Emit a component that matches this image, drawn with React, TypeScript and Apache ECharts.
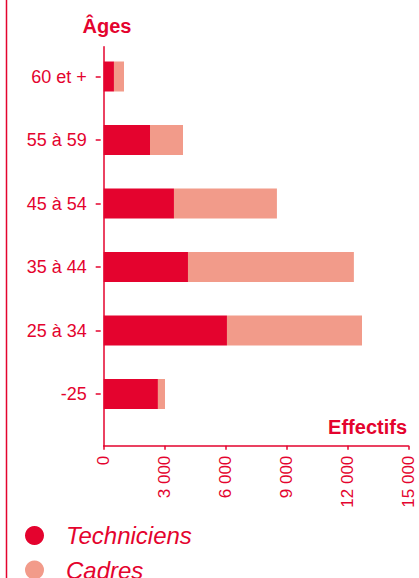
import React, { useEffect, useRef } from "react";
import * as echarts from "echarts";

const categories = ["-25", "25 à 34", "35 à 44", "45 à 54", "55 à 59", "60 et +"];
const techniciens = [2670, 6070, 4150, 3460, 2280, 505];
const cadres = [350, 6650, 8170, 5070, 1625, 495];
const xTicks = [0, 3000, 6000, 9000, 12000, 15000];
const seriesNames = ["Techniciens", "Cadres"];
const yTitle = "Âges";
const xTitle = "Effectifs";

const RED = "#E4032E";
const SALMON = "#F29B8A";
const SANS = "'Liberation Sans', Arial, sans-serif";

export default function App() {
  const ref = useRef<HTMLDivElement>(null);
  useEffect(() => {
    if (!ref.current) return;
    const chart = echarts.init(ref.current, null, { renderer: "svg" });
    const left = 103.7;
    const right = 10.7;
    const legendCommon = {
      orient: "vertical",
      left: 20,
      icon: "circle",
      itemWidth: 19,
      itemHeight: 19,
      textStyle: {
        color: RED,
        fontFamily: SANS,
        fontStyle: "italic",
        fontSize: 24,
        padding: [0, 0, 0, 17],
      },
    };
    chart.setOption({
      animation: false,
      backgroundColor: "#ffffff",
      grid: [
        { left, right, top: 44.75, bottom: 152.25, containLabel: false },
        { left, right, top: 46.7, bottom: 132.3, containLabel: false },
      ],
      xAxis: [
        { type: "value", gridIndex: 0, min: 0, max: 15000, show: false },
        {
          type: "value",
          gridIndex: 1,
          min: 0,
          max: 15000,
          interval: 3000,
          splitLine: { show: false },
          axisLine: { show: true, lineStyle: { color: RED, width: 1.5 } },
          axisTick: { show: true, length: 4, lineStyle: { color: RED, width: 1.5 } },
          axisLabel: {
            rotate: 90,
            margin: 10,
            color: RED,
            fontFamily: SANS,
            fontSize: 17,
            customValues: xTicks,
            formatter: (v: number) => String(v).replace(/\B(?=(\d{3})+(?!\d))/g, " "),
          },
        },
      ],
      yAxis: [
        {
          type: "category",
          gridIndex: 0,
          data: categories,
          axisLine: { show: false },
          axisTick: {
            show: true,
            alignWithLabel: true,
            length: 8,
            lineStyle: { color: RED, width: 1.5, type: [5, 3], dashOffset: 5 },
          },
          axisLabel: { color: RED, fontFamily: SANS, fontSize: 18, margin: 17 },
        },
        {
          type: "category",
          gridIndex: 1,
          data: categories,
          axisLine: { show: true, lineStyle: { color: RED, width: 1.5 } },
          axisTick: { show: false },
          axisLabel: { show: false },
        },
      ],
      legend: [
        { ...legendCommon, top: 518.5, data: [seriesNames[0]] },
        { ...legendCommon, top: 553, data: [seriesNames[1]] },
      ],
      series: [
        {
          name: seriesNames[0],
          type: "bar",
          stack: "total",
          xAxisIndex: 0,
          yAxisIndex: 0,
          barWidth: 30,
          itemStyle: { color: RED },
          data: techniciens,
        },
        {
          name: seriesNames[1],
          type: "bar",
          stack: "total",
          xAxisIndex: 0,
          yAxisIndex: 0,
          barWidth: 30,
          itemStyle: { color: SALMON },
          data: cadres,
        },
      ],
      graphic: [
        {
          type: "line",
          shape: { x1: 6.5, y1: 0, x2: 6.5, y2: 578 },
          style: { stroke: RED, lineWidth: 1.5 },
        },
        {
          type: "text",
          x: 107,
          y: 36,
          style: {
            text: yTitle,
            fill: RED,
            font: `bold 20px ${SANS}`,
            textAlign: "center",
            textVerticalAlign: "bottom",
          },
        },
        {
          type: "text",
          x: 407,
          y: 437,
          style: {
            text: xTitle,
            fill: RED,
            font: `bold 20px ${SANS}`,
            textAlign: "right",
            textVerticalAlign: "bottom",
          },
        },
      ],
    });
    return () => chart.dispose();
  }, []);
  return (
    <div
      ref={ref}
      style={{ position: "fixed", left: 0, top: 0, width: 419, height: 578 }}
    />
  );
}
